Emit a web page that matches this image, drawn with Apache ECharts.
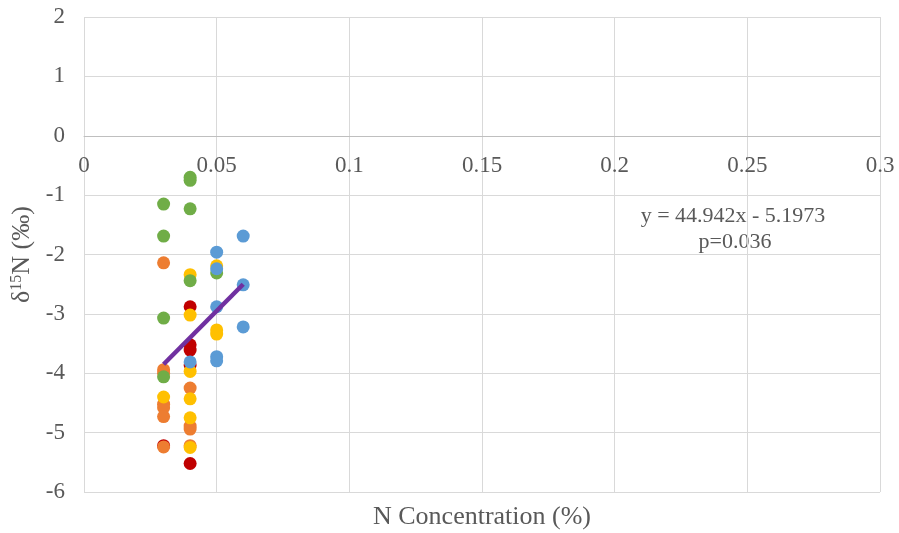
<!DOCTYPE html>
<html>
<head>
<meta charset="utf-8">
<script src="https://cdn.jsdelivr.net/npm/echarts@6/dist/echarts.min.js"></script>
<style>
  html, body { margin: 0; padding: 0; background: #fff; }
  #chart { width: 899px; height: 533px; }
</style>
</head>
<body>
<div id="chart"></div>
<script>
// Sample groups: [N concentration (%), δ15N (‰)]
const groupRed = [[0.04, -2.88], [0.04, -3.52], [0.04, -3.61], [0.04, -3.86], [0.04, -5.52], [0.03, -5.22]];
const groupOrange = [[0.03, -2.14], [0.03, -3.94], [0.03, -4.00], [0.04, -4.25], [0.03, -4.52], [0.03, -4.58],
  [0.03, -4.73], [0.04, -4.89], [0.04, -4.94], [0.03, -5.24], [0.04, -5.22]];
const groupYellow = [[0.05, -2.19], [0.04, -2.34], [0.04, -3.02], [0.05, -3.27], [0.05, -3.34], [0.04, -3.97],
  [0.03, -4.40], [0.04, -4.43], [0.04, -4.75], [0.04, -5.25]];
const groupGreen = [[0.04, -0.70], [0.04, -0.75], [0.03, -1.15], [0.04, -1.23], [0.03, -1.69], [0.05, -2.31],
  [0.04, -2.44], [0.03, -3.07], [0.03, -4.06]];
const groupBlue = [[0.06, -1.69], [0.05, -1.96], [0.05, -2.24], [0.06, -2.51], [0.05, -2.88], [0.06, -3.22],
  [0.05, -3.72], [0.05, -3.79], [0.04, -3.81]];

// Linear fit y = slope * x + intercept over the sampled range
const slope = 44.942;
const intercept = -5.1973;
const fitRange = [0.03, 0.06];
const pValue = '0.036';

const xTicks = [0, 0.05, 0.1, 0.15, 0.2, 0.25, 0.3];
const yTicks = [-6, -5, -4, -3, -2, -1, 0, 1, 2];

const fitLine = fitRange.map(x => [x, slope * x + intercept]);

const font = '"Liberation Serif", "Times New Roman", serif';
const gridColor = '#d9d9d9';
const textColor = '#595959';

const W = 899, H = 533;
const plot = { left: 84, right: 19, top: 17, bottom: 41 };
// distance from the bottom edge of the plot up to the y = 0 line
const zeroOffset = (H - plot.top - plot.bottom) * (0 - yTicks[0]) / (yTicks[yTicks.length - 1] - yTicks[0]);

function scatter(data, color) {
  return {
    type: 'scatter',
    data: data,
    symbol: 'circle',
    symbolSize: 13,
    itemStyle: { color: color, opacity: 1 },
    silent: true,
    z: 3
  };
}

const chart = echarts.init(document.getElementById('chart'), null, { renderer: 'canvas' });
chart.setOption({
  animation: false,
  backgroundColor: '#ffffff',
  grid: {
    left: plot.left, right: plot.right, top: plot.top, bottom: plot.bottom,
    containLabel: false, outerBoundsMode: 'none'
  },
  xAxis: [
    {
      // value axis drawn across the y = 0 line
      type: 'value',
      position: 'bottom',
      offset: -zeroOffset,
      min: xTicks[0],
      max: xTicks[xTicks.length - 1],
      interval: 0.05,
      axisLine: { onZero: false, lineStyle: { color: '#bfbfbf', width: 1 } },
      axisTick: { show: false },
      splitLine: { show: true, lineStyle: { color: gridColor, width: 1 } },
      axisLabel: {
        color: textColor, fontFamily: font, fontSize: 23, margin: 19,
        formatter: v => String(+v.toFixed(2))
      }
    }
  ],
  yAxis: {
    type: 'value',
    min: yTicks[0],
    max: yTicks[yTicks.length - 1],
    interval: 1,
    axisLine: { show: false },
    axisTick: { show: false },
    splitLine: { show: true, lineStyle: { color: gridColor, width: 1 } },
    axisLabel: { color: textColor, fontFamily: font, fontSize: 23, margin: 19 },
    name: '{a|δ}{s|15}{a|N (‰)}',
    nameLocation: 'middle',
    nameGap: 47,
    nameRotate: 90,
    nameTextStyle: {
      color: textColor, fontFamily: font,
      rich: {
        a: { fontFamily: font, fontSize: 26, color: textColor },
        s: { fontFamily: font, fontSize: 16, color: textColor, verticalAlign: 'top' }
      }
    }
  },
  graphic: [
    {
      type: 'text', x: (plot.left + W - plot.right) / 2, y: H - 16,
      style: {
        text: 'N Concentration (%)', font: '26px ' + font, fill: textColor,
        textAlign: 'center', textVerticalAlign: 'middle'
      }
    },
    {
      type: 'text', x: 733, y: 216,
      style: {
        text: 'y = 44.942x - 5.1973', font: '22px ' + font, fill: textColor,
        textAlign: 'center', textVerticalAlign: 'middle'
      }
    },
    {
      type: 'text', x: 735, y: 242,
      style: {
        text: 'p=' + pValue, font: '22px ' + font, fill: textColor,
        textAlign: 'center', textVerticalAlign: 'middle'
      }
    }
  ],
  series: [
    scatter(groupRed, '#c00000'),
    scatter(groupOrange, '#ed7d31'),
    scatter(groupYellow, '#ffc000'),
    scatter(groupGreen, '#70ad47'),
    scatter(groupBlue, '#5b9bd5'),
    {
      type: 'line',
      data: fitLine,
      symbol: 'none',
      lineStyle: { color: '#7030a0', width: 4.5 },
      silent: true,
      z: 4
    }
  ]
});
</script>
</body>
</html>
